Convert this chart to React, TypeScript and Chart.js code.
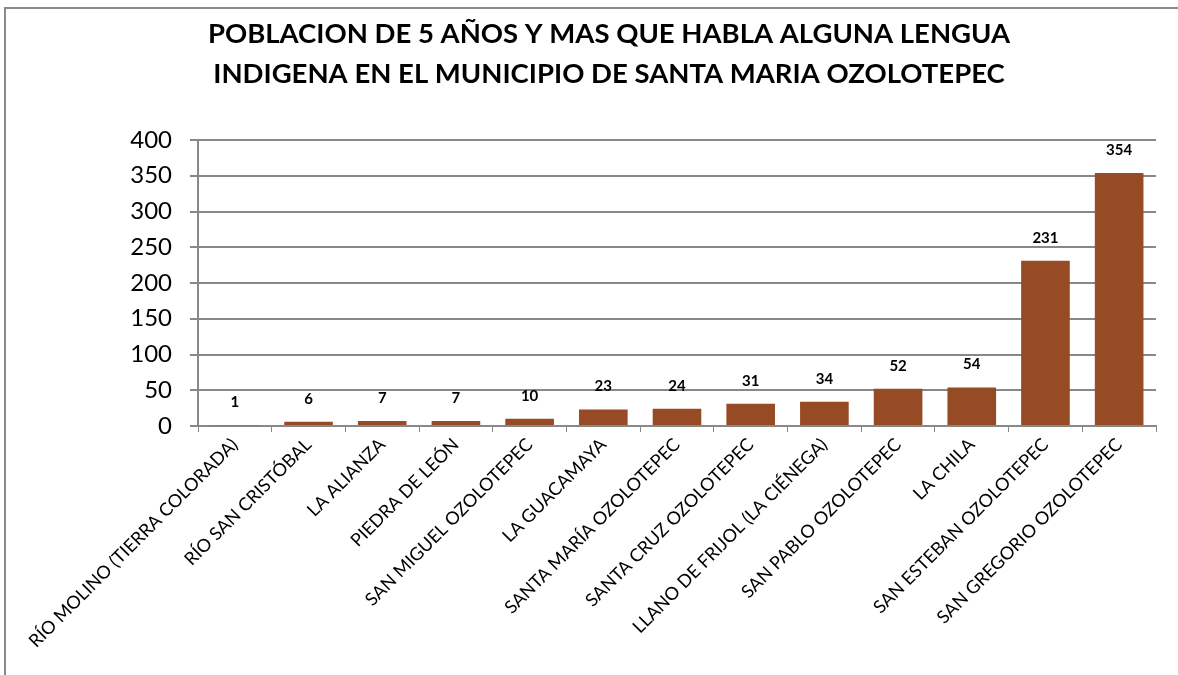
import React, { useEffect, useRef } from "react";
import { Chart, registerables } from "chart.js";

Chart.register(...registerables);

const categories = [
  "RÍO MOLINO (TIERRA COLORADA)",
  "RÍO SAN CRISTÓBAL",
  "LA ALIANZA",
  "PIEDRA DE LEÓN",
  "SAN MIGUEL OZOLOTEPEC",
  "LA GUACAMAYA",
  "SANTA MARÍA OZOLOTEPEC",
  "SANTA CRUZ OZOLOTEPEC",
  "LLANO DE FRIJOL (LA CIÉNEGA)",
  "SAN PABLO OZOLOTEPEC",
  "LA CHILA",
  "SAN ESTEBAN OZOLOTEPEC",
  "SAN GREGORIO OZOLOTEPEC",
];
const values = [1, 6, 7, 7, 10, 23, 24, 31, 34, 52, 54, 231, 354];
const titleLines = [
  "POBLACION DE 5 AÑOS Y MAS QUE HABLA ALGUNA LENGUA",
  "INDIGENA EN EL MUNICIPIO DE SANTA MARIA OZOLOTEPEC",
];
const yMin = 0;
const yMax = 400;
const yStep = 50;

const FONT = "Lato, 'Open Sans', sans-serif";

const framePlugin = {
  id: "frame",
  beforeDraw(chart: any) {
    const ctx = chart.ctx;
    ctx.save();
    ctx.fillStyle = "#ffffff";
    ctx.fillRect(0, 0, chart.width, chart.height);
    ctx.strokeStyle = "#8a8a8a";
    ctx.lineWidth = 2;
    ctx.strokeRect(5, 8, chart.width + 20, chart.height + 20);
    ctx.restore();
  },
  afterDraw(chart: any) {
    const ctx = chart.ctx;
    ctx.save();
    ctx.font = `bold 27.5px ${FONT}`;
    ctx.fillStyle = "#000";
    ctx.textAlign = "center";
    ctx.textBaseline = "middle";
    titleLines.forEach((t, i) => ctx.fillText(t, 609, 34 + i * 40));
    ctx.restore();
  },
};

const labelPlugin = {
  id: "valueLabels",
  afterDatasetsDraw(chart: any) {
    const ctx = chart.ctx;
    const meta = chart.getDatasetMeta(0);
    ctx.save();
    ctx.font = `bold 15px ${FONT}`;
    ctx.fillStyle = "#000";
    ctx.textAlign = "center";
    ctx.textBaseline = "middle";
    meta.data.forEach((bar: any, i: number) => {
      ctx.fillText(String(values[i]), bar.x, bar.y - 23);
    });
    ctx.restore();
  },
};

export default function App() {
  const ref = useRef<HTMLCanvasElement>(null);
  useEffect(() => {
    document.body.style.margin = "0";
    const chart = new Chart(ref.current!, {
      type: "bar",
      data: {
        labels: categories,
        datasets: [
          {
            data: values,
            backgroundColor: "#974b24",
            borderWidth: 0,
            categoryPercentage: 1,
            barPercentage: 0.66,
          },
        ],
      },
      options: {
        animation: false,
        responsive: false,
        maintainAspectRatio: false,
        layout: { padding: { top: 140, right: 22, bottom: 0, left: 0 } },
        plugins: {
          legend: { display: false },
          tooltip: { enabled: false },
          title: { display: false },
        },
        scales: {
          x: {
            grid: {
              drawOnChartArea: false,
              color: "#888",
              tickLength: 6,
              offset: true,
            },
            border: { color: "#888", width: 2 },
            ticks: {
              color: "#000",
              font: { family: FONT, size: 18 },
              maxRotation: 45,
              minRotation: 45,
              autoSkip: false,
              padding: 2,
            },
            afterFit(scale: any) {
              scale.height = 249;
            },
          },
          y: {
            min: yMin,
            max: yMax,
            ticks: {
              stepSize: yStep,
              color: "#000",
              font: { family: FONT, size: 24 },
              padding: 18,
            },
            grid: { color: "#888", lineWidth: 2, tickLength: 8 },
            border: { color: "#888", width: 2 },
            afterFit(scale: any) {
              scale.width = 198;
            },
          },
        },
      },
      plugins: [framePlugin, labelPlugin],
    });
    return () => chart.destroy();
  }, []);
  return (
    <div style={{ position: "fixed", left: 0, top: 0, width: 1178, height: 675 }}>
      <canvas ref={ref} width={1178} height={675} style={{ display: "block" }} />
    </div>
  );
}
